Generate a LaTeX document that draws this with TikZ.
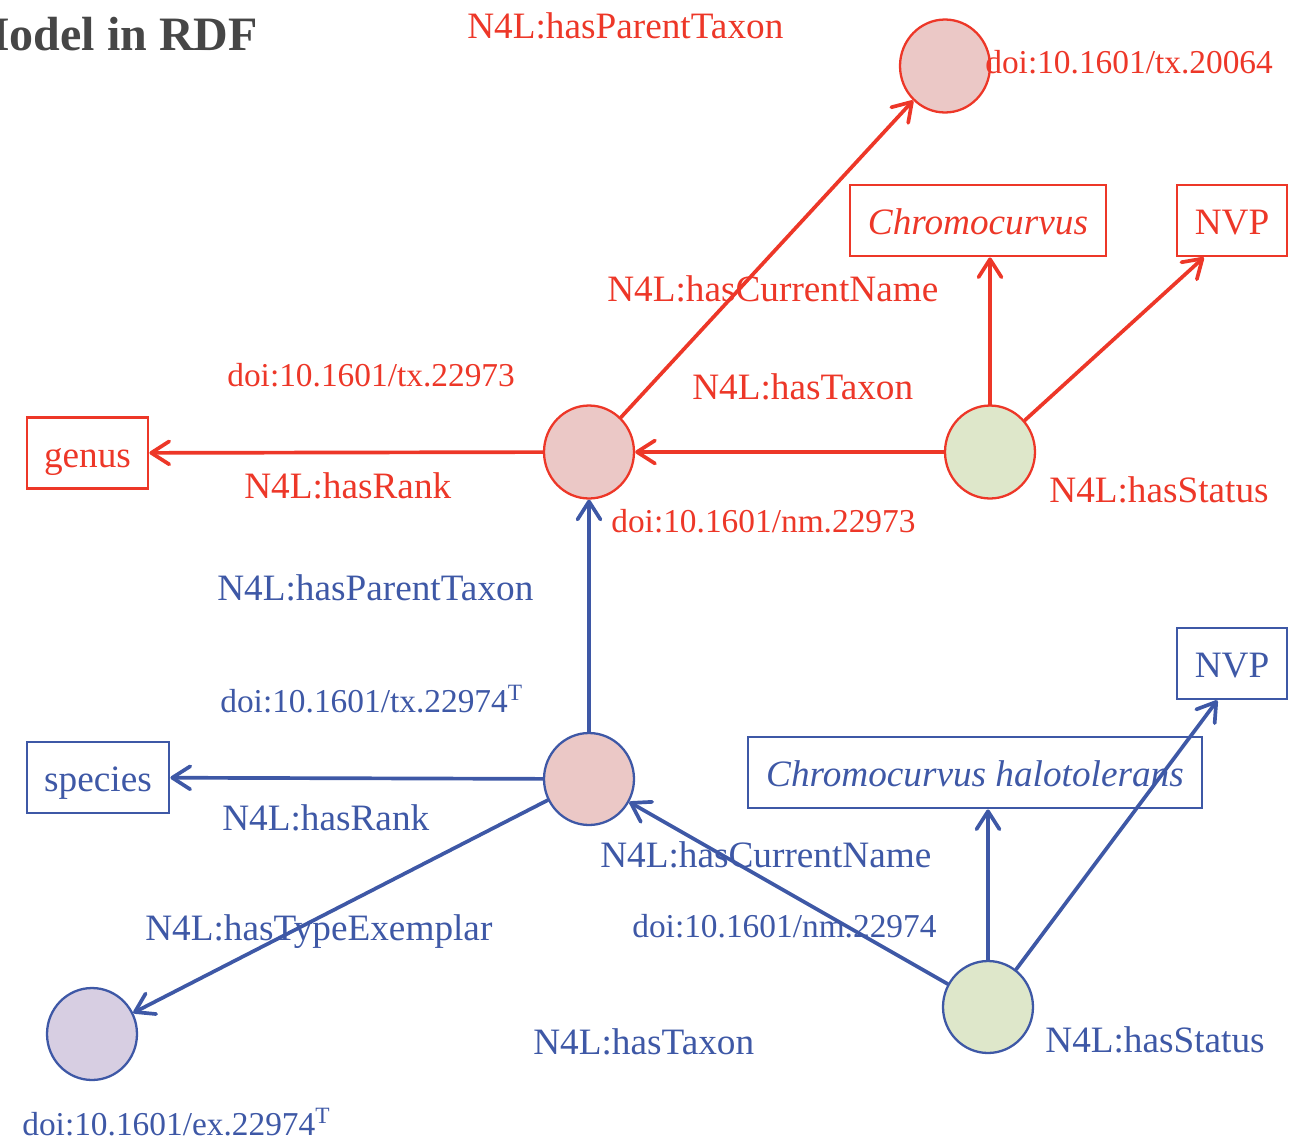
\documentclass[tikz,border=0pt]{standalone}
\usepackage{fontspec}
\setmainfont{Liberation Serif}
\usetikzlibrary{arrows.meta,shapes.geometric,calc}

\definecolor{rdfred}{RGB}{237,55,40}
\definecolor{rdfblue}{RGB}{62,88,166}
\definecolor{pinkfill}{RGB}{235,200,198}
\definecolor{greenfill}{RGB}{222,231,202}
\definecolor{lilacfill}{RGB}{215,206,226}
\definecolor{titlegray}{RGB}{70,70,70}

\tikzset{
  big/.style={font=\fontsize{21.2pt}{25pt}\selectfont},
  small/.style={font=\fontsize{19pt}{23pt}\selectfont},
  res/.style={ellipse, minimum width=1.8cm, minimum height=1.86cm, inner sep=0pt, line width=1.3pt},
  lit/.style={rectangle, big, line width=1.6pt, inner sep=0pt,
              text height=0.6cm, text depth=0.04cm, minimum height=1.42cm},
  lbl/.style={anchor=base west, inner sep=0pt},
  link/.style={line width=2.1pt, line cap=round,
               -{Straight Barb[length=0.36cm, width=0.46cm, round]}},
}

\begin{document}
\begin{tikzpicture}[x=0.02cm, y=-0.02cm]
\useasboundingbox (0,0) rectangle (1296,1140);

% heading
\node[anchor=base east, inner sep=0pt, text=titlegray,
      font=\fontsize{27.3pt}{32pt}\selectfont\bfseries] (title) at (258,50) {Model in RDF};

% resources (circles)
\node[res, draw=rdfred, fill=pinkfill] (parent) at (945,66) {};
\node[res, draw=rdfred, fill=pinkfill] (genusTx) at (589,452) {};
\node[res, draw=rdfred, fill=greenfill] (genusNm) at (990,452) {};
\node[res, draw=rdfblue, fill=pinkfill, minimum height=1.84cm] (speciesTx) at (589,779) {};
\node[res, draw=rdfblue, fill=greenfill, minimum height=1.84cm] (speciesNm) at (988,1007) {};
\node[res, draw=rdfblue, fill=lilacfill, minimum height=1.84cm] (exemplar) at (92,1034) {};

% literals (boxes)
\node[lit, draw=rdfred, text=rdfred, minimum width=5.12cm] (chromR) at (978,220.5) {\itshape Chromocurvus};
\node[lit, draw=rdfred, text=rdfred, minimum width=2.2cm] (nvpR) at (1232,220.5) {NVP};
\node[lit, draw=rdfred, text=rdfred, minimum width=2.42cm] (genus) at (87.5,453) {genus};
\node[lit, draw=rdfblue, text=rdfblue, minimum width=2.2cm] (nvpB) at (1232,663.5) {NVP};
\node[lit, draw=rdfblue, text=rdfblue, minimum width=9.08cm] (chromB) at (975,772.5) {\itshape Chromocurvus halotolerans};
\node[lit, draw=rdfblue, text=rdfblue, minimum width=2.84cm] (species) at (98,777.5) {species};

% labels for the genus level
\begin{scope}[text=rdfred]
\node[lbl, big] (lParentR) at (467,38) {N4L:hasParentTaxon};
\node[lbl, small] (lTx20064) at (985,73) {doi:10.1601/tx.20064};
\node[lbl, big] (lCurNameR) at (607,301) {N4L:hasCurrentName};
\node[lbl, small] (lTx22973) at (227,386) {doi:10.1601/tx.22973};
\node[lbl, big] (lTaxonR) at (692,399) {N4L:hasTaxon};
\node[lbl, big] (lRankR) at (244,498) {N4L:hasRank};
\node[lbl, big] (lStatusR) at (1049,502) {N4L:hasStatus};
\node[lbl, small] (lNm22973) at (611,532) {doi:10.1601/nm.22973};
\end{scope}

% labels for the species level
\begin{scope}[text=rdfblue]
\node[lbl, big] (lParentB) at (217,600) {N4L:hasParentTaxon};
\node[lbl, small] (lTx22974) at (220,712) {doi:10.1601/tx.22974\textsuperscript{T}};
\node[lbl, big] (lRankB) at (222,830) {N4L:hasRank};
\node[lbl, big] (lCurNameB) at (600,867) {N4L:hasCurrentName};
\node[lbl, big] (lTypeEx) at (145,940) {N4L:hasTypeExemplar};
\node[lbl, small] (lNm22974) at (632,937) {doi:10.1601/nm.22974};
\node[lbl, big] (lTaxonB) at (533,1054) {N4L:hasTaxon};
\node[lbl, big] (lStatusB) at (1045,1052) {N4L:hasStatus};
\node[lbl, small] (lEx22974) at (22,1135) {doi:10.1601/ex.22974\textsuperscript{T}};
\end{scope}

% genus-level statements
\draw[link, rdfred] (genusTx) -- (parent);
\draw[link, rdfred] (genusNm) -- (genusNm |- chromR.south);
\draw[link, rdfred] (genusNm) -- ($(nvpR.south west)!0.25!(nvpR.south east)$);
\draw[link, rdfred] (genusNm) -- (genusTx);
\draw[link, rdfred] (genusTx) -- (genus);

% species-level statements
\draw[link, rdfblue] (speciesTx) -- (genusTx);
\draw[link, rdfblue] (speciesTx) -- (species);
\draw[link, rdfblue] (speciesTx) -- (exemplar);
\draw[link, rdfblue] (speciesNm) -- (speciesTx);
\draw[link, rdfblue] (speciesNm) -- (speciesNm |- chromB.south);
\draw[link, rdfblue] (speciesNm) -- ($(nvpB.south west)!0.37!(nvpB.south east)$);

\end{tikzpicture}
\end{document}
